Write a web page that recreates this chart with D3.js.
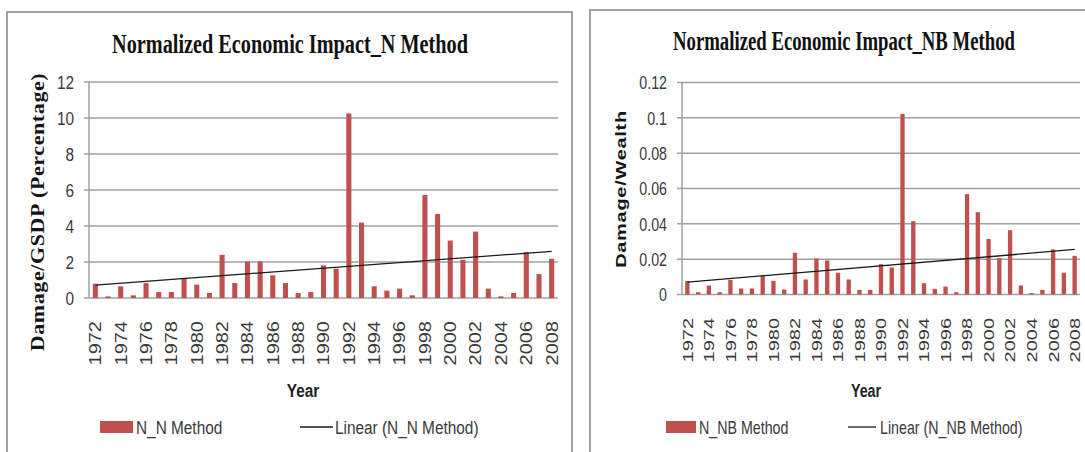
<!DOCTYPE html>
<html>
<head>
<meta charset="utf-8">
<script src="https://cdn.jsdelivr.net/npm/d3@7"></script>
<style>
  body { margin: 0; background: #ffffff; }
  svg { display: block; }
</style>
</head>
<body>
<svg id="chart" width="1085" height="452"></svg>
<script>
// ---- data -------------------------------------------------------------
const years = [1972, 1973, 1974, 1975, 1976, 1977, 1978, 1979, 1980, 1981,
               1982, 1983, 1984, 1985, 1986, 1987, 1988, 1989, 1990, 1991,
               1992, 1993, 1994, 1995, 1996, 1997, 1998, 1999, 2000, 2001,
               2002, 2003, 2004, 2005, 2006, 2007, 2008];

// Damage / GSDP (percentage), N method
const nMethodValues = [0.79, 0.09, 0.65, 0.15, 0.83, 0.33, 0.33, 1.11, 0.74, 0.28,
                       2.40, 0.83, 2.03, 2.03, 1.26, 0.83, 0.28, 0.33, 1.81, 1.63,
                       10.25, 4.19, 0.65, 0.41, 0.52, 0.15, 5.72, 4.67, 3.19, 2.12,
                       3.69, 0.52, 0.09, 0.28, 2.55, 1.33, 2.18];

// Damage / Wealth, NB method
const nbMethodValues = [0.0076, 0.0013, 0.0051, 0.0013, 0.0083, 0.0034, 0.0034, 0.0106, 0.0077, 0.0028,
                        0.0236, 0.0085, 0.0204, 0.0193, 0.0123, 0.0085, 0.0026, 0.0026, 0.0172, 0.0153,
                        0.1022, 0.0415, 0.0064, 0.0032, 0.0045, 0.0013, 0.0568, 0.0466, 0.0314, 0.0206,
                        0.0364, 0.0051, 0.0008, 0.0026, 0.0255, 0.0123, 0.0219];

const nTickValues  = [0, 2, 4, 6, 8, 10, 12];
const nbTickValues = [0, 0.02, 0.04, 0.06, 0.08, 0.1, 0.12];
const yearTickLabels = [1972, 1974, 1976, 1978, 1980, 1982, 1984, 1986, 1988, 1990,
                        1992, 1994, 1996, 1998, 2000, 2002, 2004, 2006, 2008];

// ---- styling ----------------------------------------------------------
const BAR = "#c0504d";
const GRID = "#a0a0a0";
const FRAME = "#8a8a8a";
const INK = "#3a3a3a";
const SERIF = "'Liberation Serif','Times New Roman',serif";
const SANS = "'Liberation Sans',Arial,sans-serif";

const panels = [
  {
    title: "Normalized Economic Impact_N Method", titleX: 290, titleY: 53, titleW: 356,
    yTitle: "Damage/GSDP (Percentage)", yTitleSerif: true, yTitleX: 37, yTitleY: 212, yTitleLen: 278,
    values: nMethodValues, ticks: nTickValues, fmt: d => String(d),
    frame: { x: 7, y: 12, w: 565 },
    plot: { left: 89, right: 558, top: 82, bottom: 298 },
    sx: 0.81, labelTop: 321, yearX: 303,
    legend: { rect: 100, text: 136, line: 300, lineEnd: 333, text2: 335, y: 427 },
    seriesName: "N_N Method", trendName: "Linear (N_N Method)"
  },
  {
    title: "Normalized Economic Impact_NB Method", titleX: 844, titleY: 50, titleW: 342,
    yTitle: "Damage/Wealth", yTitleSerif: false, yTitleX: 621, yTitleY: 189, yTitleLen: 157,
    values: nbMethodValues, ticks: nbTickValues, fmt: d => String(d),
    frame: { x: 590, y: 10, w: 520 },
    plot: { left: 682, right: 1080, top: 82.5, bottom: 294.5 },
    sx: 0.75, labelTop: 318, yearX: 866,
    legend: { rect: 666, text: 699, line: 848, lineEnd: 876, text2: 880, y: 427 },
    seriesName: "N_NB Method", trendName: "Linear (N_NB Method)"
  }
];

const svg = d3.select("#chart");

function drawPanel(p) {
  const g = svg.append("g");
  const SX = p.sx;

  // chart frame
  g.append("rect")
    .attr("x", p.frame.x).attr("y", p.frame.y)
    .attr("width", p.frame.w).attr("height", 470)
    .attr("fill", "#ffffff").attr("stroke", FRAME).attr("stroke-width", 1.6);

  const x = d3.scaleBand()
    .domain(years)
    .range([p.plot.left, p.plot.right])
    .paddingInner(0.6).paddingOuter(0.3);

  const y = d3.scaleLinear()
    .domain([p.ticks[0], p.ticks[p.ticks.length - 1]])
    .range([p.plot.bottom, p.plot.top]);

  // horizontal gridlines with short outer ticks
  g.append("g").selectAll("line").data(p.ticks).join("line")
    .attr("x1", p.plot.left - 5).attr("x2", p.plot.right)
    .attr("y1", d => y(d)).attr("y2", d => y(d))
    .attr("stroke", GRID).attr("stroke-width", 1.5);

  // value axis line
  g.append("line")
    .attr("x1", p.plot.left).attr("x2", p.plot.left)
    .attr("y1", p.plot.top).attr("y2", p.plot.bottom)
    .attr("stroke", GRID).attr("stroke-width", 1.5);

  // value tick labels
  g.append("g").selectAll("text").data(p.ticks).join("text")
    .attr("transform", d => `translate(${p.plot.left - 15},${y(d)}) scale(${SX},1)`)
    .attr("text-anchor", "end").attr("dy", "0.36em")
    .attr("font-family", SANS).attr("font-size", 19).attr("fill", INK)
    .text(p.fmt);

  // bars
  g.append("g").selectAll("rect").data(years).join("rect")
    .attr("x", d => x(d))
    .attr("width", x.bandwidth())
    .attr("y", (d, i) => y(p.values[i]))
    .attr("height", (d, i) => y(0) - y(p.values[i]))
    .attr("fill", BAR);

  // least-squares linear trend across the years
  const n = years.length;
  const idx = d3.range(n);
  const mx = d3.mean(idx), my = d3.mean(p.values);
  const slope = d3.sum(idx, i => (i - mx) * (p.values[i] - my)) / d3.sum(idx, i => (i - mx) ** 2);
  const icpt = my - slope * mx;
  const cx = d => x(d) + x.bandwidth() / 2;
  g.append("line")
    .attr("x1", cx(years[0])).attr("y1", y(icpt))
    .attr("x2", cx(years[n - 1])).attr("y2", y(icpt + slope * (n - 1)))
    .attr("stroke", "#1a1a1a").attr("stroke-width", 1.3);

  // year labels, rotated
  g.append("g").selectAll("text").data(yearTickLabels).join("text")
    .attr("transform", d => `translate(${cx(d)},${p.labelTop}) scale(${SX},1) rotate(-90)`)
    .attr("text-anchor", "end").attr("dy", "0.36em")
    .attr("font-family", SANS).attr("font-size", 20).attr("fill", INK)
    .text(d => d);

  // category axis title
  g.append("text")
    .attr("transform", `translate(${p.yearX},397) scale(${SX},1)`)
    .attr("text-anchor", "middle")
    .attr("font-family", SANS).attr("font-weight", "bold").attr("font-size", 19).attr("fill", "#222")
    .text("Year");

  // value axis title, spaced out to its full length
  const yt = g.append("text")
    .attr("text-anchor", "middle").attr("dy", "0.35em")
    .attr("font-weight", "bold").attr("fill", "#151515")
    .text(p.yTitle);
  if (p.yTitleSerif) {
    yt.attr("font-family", SERIF).attr("font-size", 22)
      .attr("transform", `translate(${p.yTitleX},${p.yTitleY}) scale(0.85,1) rotate(-90)`);
  } else {
    yt.attr("font-family", SANS).attr("font-size", 20)
      .attr("transform", `translate(${p.yTitleX},${p.yTitleY}) scale(${SX},1) rotate(-90)`);
  }
  const natural = yt.node().getComputedTextLength();
  const gaps = p.yTitle.length - 1;
  yt.attr("letter-spacing", Math.max(0, (p.yTitleLen - natural) / gaps));

  // chart title, condensed to its measured width
  const tt = g.append("text")
    .attr("text-anchor", "middle")
    .attr("font-family", SERIF).attr("font-weight", "bold").attr("font-size", 27).attr("fill", "#111")
    .text(p.title);
  const tw = tt.node().getComputedTextLength();
  tt.attr("transform", `translate(${p.titleX},${p.titleY}) scale(${p.titleW / tw},1)`);

  // legend
  const L = p.legend;
  g.append("rect")
    .attr("x", L.rect).attr("y", L.y - 6).attr("width", L.text - L.rect - 3).attr("height", 12)
    .attr("fill", BAR);
  g.append("text")
    .attr("transform", `translate(${L.text},${L.y}) scale(${SX},1)`)
    .attr("dy", "0.36em")
    .attr("font-family", SANS).attr("font-size", 19).attr("fill", INK)
    .text(p.seriesName);
  g.append("line")
    .attr("x1", L.line).attr("x2", L.lineEnd).attr("y1", L.y).attr("y2", L.y)
    .attr("stroke", "#1a1a1a").attr("stroke-width", 1.3);
  g.append("text")
    .attr("transform", `translate(${L.text2},${L.y}) scale(${SX},1)`)
    .attr("dy", "0.36em")
    .attr("font-family", SANS).attr("font-size", 19).attr("fill", INK)
    .text(p.trendName);
}

panels.forEach(drawPanel);
</script>
</body>
</html>
